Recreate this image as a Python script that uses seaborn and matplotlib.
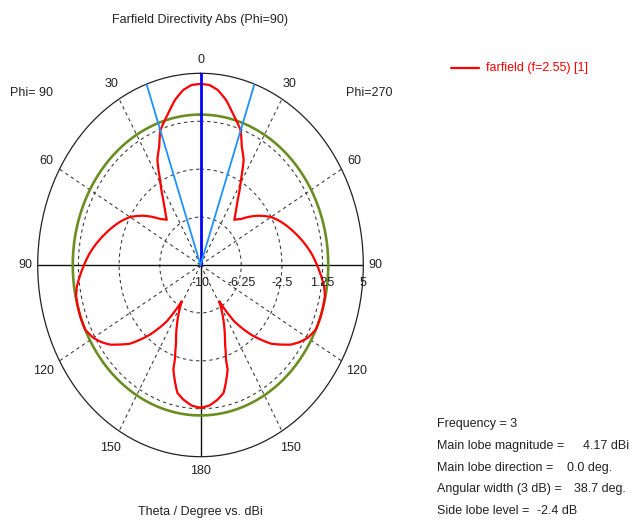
import numpy as np
import pandas as pd
import matplotlib
matplotlib.use("Agg")
import matplotlib.pyplot as plt
import seaborn as sns

# ---------------- data ----------------
theta_deg = [0, 3.3, 6.6, 10.3, 14, 17.1, 19.35, 22.3, 25.8, 29.2, 33.9, 37.1, 41.3,
             46, 53.8, 60, 64.5, 69.4, 74.5, 79.8, 85, 90.6, 98.3, 102, 109.9, 115.4,
             120, 123.6, 126.8, 130, 133.5, 136.4, 139.5, 142, 144.8, 148.7,
             155.5, 159.7, 162.4, 163, 165.8, 168, 171.4, 175.8, 180]
gain_db = [4.17, 4.11, 3.79, 3.13, 2.24, 1.61, 1.17, 0.02, -0.87, -2.37, -3.86, -4.58, -5.29,
           -4.82, -3.47, -2.5, -1.96, -1.43, -0.88, -0.29, 0.27, 0.79, 1.51, 1.72, 1.79, 1.77,
           1.4, 0.92, 0.4, -0.32, -1.06, -1.93, -2.84, -3.68, -4.6, -6.67,
           -4.72, -3.5, -2.23, -1.45, -0.49, 0.23, 0.64, 1.03, 1.17]

main_lobe_mag = 4.17
main_lobe_dir = 0.0
angular_width = 38.7
side_lobe_level = -2.4

r_ticks = [-10, -6.25, -2.5, 1.25, 5]
r_tick_labels = ["-10", "-6.25", "-2.5", "1.25", "5"]
angle_ticks = [0, 30, 60, 90, 120, 150, 180]
angle_tick_labels = ["0", "30", "60", "90", "120", "150", "180"]

title = "Farfield Directivity Abs (Phi=90)"
xlabel = "Theta / Degree vs. dBi"
legend_label = "farfield (f=2.55) [1]"
info_labels = ["Frequency = 3", "Main lobe magnitude =", "Main lobe direction =",
               "Angular width (3 dB) =", "Side lobe level ="]
info_values = ["", "4.17 dBi", "0.0 deg.", "38.7 deg.", "-2.4 dB"]

# ---------------- figure ----------------
sns.set_style("white")
plt.rcParams["font.family"] = ["Liberation Sans", "DejaVu Sans"]
W, H = 631, 521
fig = plt.figure(figsize=(W / 100, H / 100), dpi=100)

def px(x, y):
    return x / W, 1 - y / H

cx0, cy0, cx1, cy1 = 37.7, 73.3, 363.3, 456.7
ax = fig.add_axes([cx0 / W, 1 - cy1 / H, (cx1 - cx0) / W, (cy1 - cy0) / H], projection="polar")
ax.set_aspect("auto")
ax.set_theta_zero_location("N")
ax.set_theta_direction(-1)
ax.set_rlim(r_ticks[0], r_ticks[-1])
ax.grid(False)
ax.set_xticks([])
ax.set_yticks([])
ax.spines["polar"].set_color("#222222")
ax.spines["polar"].set_linewidth(0.9)
ax.set_facecolor("white")

rmin, rmax = r_ticks[0], r_ticks[-1]
full = np.linspace(0, 2 * np.pi, 721)
dash = (0, (3.2, 3.2))
gkw = dict(color="#333333", lw=0.75, ls=dash, zorder=1)
for rv in r_ticks[1:-1]:
    ax.plot(full, np.full_like(full, rv), **gkw)
for a in [30, 60, 120, 150]:
    for s in (1, -1):
        ax.plot([np.deg2rad(s * a)] * 2, [rmin, rmax], **gkw)
# solid axes
for a in (90, -90, 180):
    ax.plot([np.deg2rad(a)] * 2, [rmin, rmax], color="#111111", lw=1.0, zorder=2)

# side lobe level circle
sll_abs = main_lobe_mag + side_lobe_level
ax.plot(full, np.full_like(full, sll_abs), color="#6B8E23", lw=1.9, zorder=3)

# pattern (symmetric)
th = np.array(theta_deg)
g = np.array(gain_db)
th_full = np.concatenate([-th[::-1], th[1:]])
g_full = np.concatenate([g[::-1], g[1:]])
df = pd.DataFrame({"theta": np.deg2rad(th_full), "gain": g_full})
n_before = len(ax.lines)
sns.lineplot(data=df, x="theta", y="gain", sort=False, estimator=None, ax=ax,
             color="#FF0000", lw=1.6, zorder=4)
for ln in ax.lines[n_before:]:
    try:
        ln.recache()
        ln._path._interpolation_steps = 12
    except Exception:
        pass

# main lobe direction + beam width lines
ax.plot([np.deg2rad(main_lobe_dir)] * 2, [rmin, rmax], color="#0000FF", lw=2.0, zorder=5)
for s in (1, -1):
    ax.plot([np.deg2rad(main_lobe_dir + s * angular_width / 2)] * 2, [rmin, rmax],
            color="#1E90FF", lw=1.3, zorder=5)
ax.set_xlabel("")
ax.set_ylabel("")
ax.set_rlim(rmin, rmax)

# angle labels
lab_rn = {0: 1.07, 30: 1.09, 60: 1.09, 90: 1.075, 120: 1.11, 150: 1.10, 180: 1.075}
fs = 9
for a, lab in zip(angle_ticks, angle_tick_labels):
    sides = (1,) if a in (0, 180) else (1, -1)
    for s in sides:
        rr = rmin + (rmax - rmin) * lab_rn[a]
        ax.text(np.deg2rad(s * a), rr, lab, ha="center", va="center", fontsize=fs,
                color="#222222", clip_on=False)

# radial labels below the horizontal axis
for rv, lab in zip(r_ticks, r_tick_labels):
    xn = (rv - rmin) / (rmax - rmin)
    xp = 200.5 + 162.8 * xn
    fig.text(*px(xp, 283), lab, ha="center", va="center", fontsize=fs, color="#222222")

fig.text(*px(200, 20.5), title, ha="center", va="center", fontsize=fs, color="#222222")
fig.text(*px(200, 512), xlabel, ha="center", va="center", fontsize=fs, color="#222222")
fig.text(*px(31.7, 92.7), "Phi= 90", ha="center", va="center", fontsize=fs, color="#222222")
fig.text(*px(369, 92.7), "Phi=270", ha="center", va="center", fontsize=fs, color="#222222")

# legend
fig.add_artist(plt.Line2D([450.7 / W, 479.3 / W], [1 - 68.3 / H] * 2, color="#FF0000", lw=1.6))
fig.text(*px(486, 68.3), legend_label, ha="left", va="center", fontsize=fs, color="#FF0000")

# info block
ys = [424, 445.7, 468, 489.3, 511]
vx = [None, 582.7, 566.7, 574, 536.7]
for lab, val, y, x in zip(info_labels, info_values, ys, vx):
    fig.text(*px(436.7, y), lab, ha="left", va="center", fontsize=fs, color="#222222")
    if val:
        fig.text(*px(x, y), val, ha="left", va="center", fontsize=fs, color="#222222")

fig.savefig("out.png", dpi=100)
